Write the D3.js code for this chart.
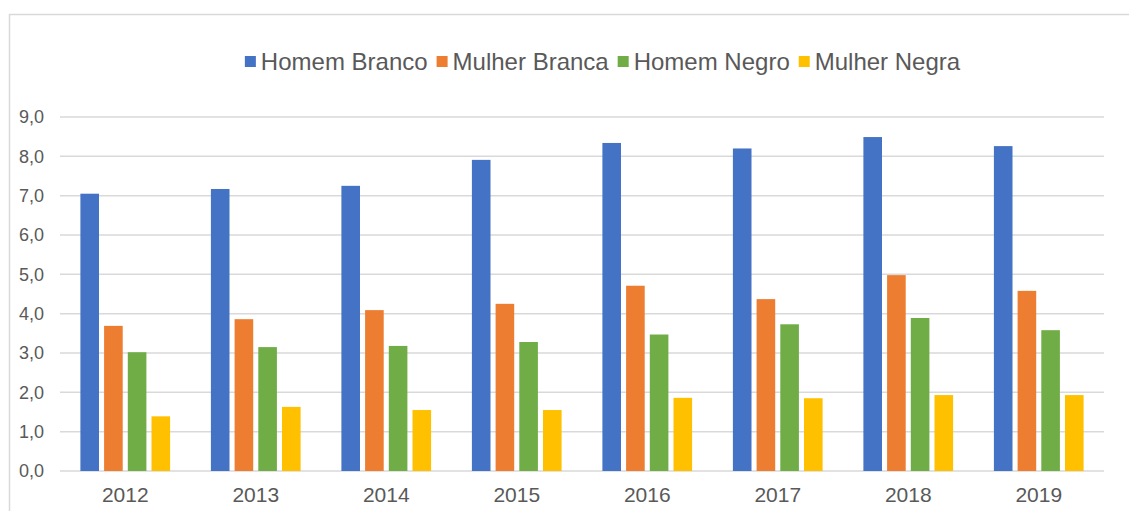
<!DOCTYPE html>
<html>
<head>
<meta charset="utf-8">
<script src="https://cdn.jsdelivr.net/npm/d3@7/dist/d3.min.js"></script>
<style>
  html, body { margin: 0; padding: 0; background: #fff; }
  svg { display: block; font-family: "Liberation Sans", Arial, sans-serif; }
</style>
</head>
<body>
<svg id="chart" width="1129" height="511"></svg>
<script>
const years = ["2012", "2013", "2014", "2015", "2016", "2017", "2018", "2019"];
const seriesNames = ["Homem Branco", "Mulher Branca", "Homem Negro", "Mulher Negra"];
const seriesColors = ["#4472C4", "#ED7D31", "#70AD47", "#FFC000"];
const homemBranco  = [7.05, 7.17, 7.25, 7.91, 8.34, 8.20, 8.49, 8.26];
const mulherBranca = [3.69, 3.86, 4.09, 4.25, 4.71, 4.37, 4.98, 4.58];
const homemNegro   = [3.02, 3.15, 3.18, 3.28, 3.47, 3.73, 3.89, 3.58];
const mulherNegra  = [1.39, 1.63, 1.55, 1.55, 1.86, 1.85, 1.93, 1.93];
const yTicks = [0, 1, 2, 3, 4, 5, 6, 7, 8, 9];

const seriesValues = [homemBranco, mulherBranca, homemNegro, mulherNegra];

const svg = d3.select("#chart");
const textColor = "#595959";
const gridColor = "#d9d9d9";

// chart frame
svg.append("rect")
  .attr("x", 9.5).attr("y", 14.5)
  .attr("width", 1140).attr("height", 520)
  .attr("fill", "none").attr("stroke", gridColor).attr("stroke-width", 1.5);

const plot = { left: 60, right: 1104, top: 117, bottom: 471 };

const x0 = d3.scaleBand().domain(years)
  .range([plot.left, plot.right])
  .paddingInner(0.3126).paddingOuter(0.1563);
const x1 = d3.scaleBand().domain(seriesNames)
  .range([0, x0.bandwidth()])
  .paddingInner(0.215).paddingOuter(0);
const y = d3.scaleLinear().domain([0, 9]).range([plot.bottom, plot.top]);

// gridlines
svg.append("g").selectAll("line").data(yTicks).join("line")
  .attr("x1", plot.left).attr("x2", plot.right)
  .attr("y1", d => y(d)).attr("y2", d => y(d))
  .attr("stroke", gridColor).attr("stroke-width", 1.5);

// y axis labels
const yAxis = d3.axisLeft(y).tickValues(yTicks)
  .tickFormat(d => d3.format(".1f")(d).replace(".", ","))
  .tickSize(0).tickPadding(16);
const yg = svg.append("g").attr("transform", `translate(${plot.left},0)`).call(yAxis);
yg.select(".domain").remove();
yg.selectAll("text").attr("fill", textColor).style("font-size", "18px")
  .style("font-family", "'Liberation Sans', Arial, sans-serif");

// x axis labels
const xAxis = d3.axisBottom(x0).tickSize(0).tickPadding(16);
const xg = svg.append("g").attr("transform", `translate(0,${plot.bottom})`).call(xAxis);
xg.select(".domain").remove();
xg.selectAll("text").attr("fill", textColor).style("font-size", "21px")
  .style("font-family", "'Liberation Sans', Arial, sans-serif");

// bars
const groups = svg.append("g").selectAll("g").data(years).join("g")
  .attr("transform", d => `translate(${x0(d)},0)`);
groups.selectAll("rect")
  .data((yr, i) => seriesNames.map((s, k) => ({ s, k, v: seriesValues[k][i] })))
  .join("rect")
  .attr("x", d => x1(d.s))
  .attr("width", x1.bandwidth())
  .attr("y", d => y(d.v))
  .attr("height", d => y(0) - y(d.v))
  .attr("fill", d => seriesColors[d.k]);

// legend
const legend = svg.append("g");
const legendY = 62;
let cx = 0;
seriesNames.forEach((name, i) => {
  const g = legend.append("g");
  g.append("rect").attr("x", cx).attr("y", legendY - 6).attr("width", 11).attr("height", 11)
    .attr("fill", seriesColors[i]);
  const t = g.append("text").attr("x", cx + 16).attr("y", legendY + 8)
    .attr("fill", textColor).style("font-size", "24px").text(name);
  const w = t.node().getComputedTextLength();
  cx += 16 + w + 9;
});
const totalW = cx - 9;
legend.attr("transform", `translate(${602.5 - totalW / 2},0)`);
</script>
</body>
</html>
